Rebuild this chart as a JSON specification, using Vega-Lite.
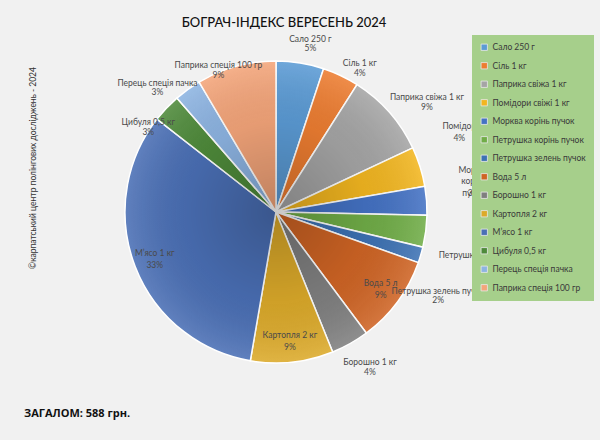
{
 "$schema": "https://vega.github.io/schema/vega-lite/v6.json",
 "background": "#f1f1f1",
 "padding": {"left": 24, "top": 0, "right": 12, "bottom": 16},
 "config": {"view": {"stroke": null}, "font": "Lato", "concat": {"spacing": 0}, "text": {"fontSize": 8.5, "fill": "#4a4a4a"}},
 "title": {"text": "ЗАГАЛОМ: 588 грн.", "orient": "bottom", "anchor": "start", "fontSize": 11, "fontWeight": "bold", "color": "#111111", "offset": -16, "dx": -2, "font": "Open Sans"},
 "vconcat": [{
  "title": {"text": "©карпатський центр полінгових досліджень - 2024", "orient": "left", "anchor": "middle", "fontSize": 8.5, "fontWeight": "normal", "color": "#333333", "offset": -11, "dx": 44},
  "hconcat": [{
   "title": {"text": "БОГРАЧ-ІНДЕКС ВЕРЕСЕНЬ 2024", "frame": "group", "fontSize": 13, "fontWeight": 500, "color": "#111111", "offset": -30, "dx": 8},
   "width": 500,
   "height": 424,
   "data": {"values": [
    {"idx": 1, "name": "Сало 250 г", "value": 30, "pct": "5%"},
    {"idx": 2, "name": "Сіль 1 кг", "value": 23, "pct": "4%"},
    {"idx": 3, "name": "Паприка свіжа 1 кг", "value": 53, "pct": "9%"},
    {"idx": 4, "name": "Помідори свіжі 1 кг", "value": 25, "pct": "4%"},
    {"idx": 5, "name": "Морква корінь пучок", "value": 18, "pct": "3%"},
    {"idx": 6, "name": "Петрушка корінь пучок", "value": 20, "pct": "3%"},
    {"idx": 7, "name": "Петрушка зелень пучок", "value": 10, "pct": "2%"},
    {"idx": 8, "name": "Вода 5 л", "value": 55, "pct": "9%"},
    {"idx": 9, "name": "Борошно 1 кг", "value": 24, "pct": "4%"},
    {"idx": 10, "name": "Картопля 2 кг", "value": 52, "pct": "9%"},
    {"idx": 11, "name": "М’ясо 1 кг", "value": 193, "pct": "33%"},
    {"idx": 12, "name": "Цибуля 0,5 кг", "value": 18, "pct": "3%"},
    {"idx": 13, "name": "Перець спеція пачка", "value": 17, "pct": "3%"},
    {"idx": 14, "name": "Паприка спеція 100 гр", "value": 50, "pct": "9%"}
   ]},
   "encoding": {
    "theta": {"field": "value", "type": "quantitative", "stack": true},
    "order": {"field": "idx", "type": "quantitative"}
   },
   "layer": [
    {
     "mark": {"type": "arc", "outerRadius": 151, "stroke": "#ffffff", "strokeWidth": 1.5},
     "encoding": {
      "color": {
       "field": "name", "type": "nominal",
       "scale": {
        "domain": ["Сало 250 г", "Сіль 1 кг", "Паприка свіжа 1 кг", "Помідори свіжі 1 кг", "Морква корінь пучок", "Петрушка корінь пучок", "Петрушка зелень пучок", "Вода 5 л", "Борошно 1 кг", "Картопля 2 кг", "М’ясо 1 кг", "Цибуля 0,5 кг", "Перець спеція пачка", "Паприка спеція 100 гр"],
        "range": ["#5b9bd5", "#ed7d31", "#a5a5a5", "#f2b620", "#4472c4", "#70ad47", "#3d72b4", "#cf6424", "#7f7f7f", "#dcaa2a", "#4a6fb5", "#4e8a3a", "#8db4e2", "#f4a57a"]
       },
       "legend": {
        "orient": "none", "legendX": 446, "legendY": 35, "title": null,
        "fillColor": "#a6cf8b", "padding": 8,
        "labelFontSize": 8.5, "labelColor": "#3a3a3a", "labelLimit": 120,
        "symbolType": "square", "symbolSize": 40, "symbolStrokeColor": "#e8e8e8", "symbolStrokeWidth": 0.8,
        "rowPadding": 7.5
       }
      }
     }
    },
    {
     "transform": [{"aggregate": [{"op": "sum", "field": "value", "as": "total"}]}],
     "mark": {"type": "arc", "outerRadius": 151, "fill": {"gradient": "radial", "x1": 0.5, "y1": 0.5, "r1": 0, "x2": 0.5, "y2": 0.5, "r2": 0.5, "stops": [{"offset": 0, "color": "rgba(0,0,0,0.22)"}, {"offset": 0.6, "color": "rgba(0,0,0,0.06)"}, {"offset": 1, "color": "rgba(255,255,255,0.12)"}]}},
     "encoding": {
      "theta": {"field": "total", "type": "quantitative", "stack": true},
      "order": {"field": "total", "type": "quantitative"}
     }
    },
    {"mark": {"type": "text", "radius": 130, "dy": -6}, "encoding": {"text": {"field": "name"}, "opacity": {"condition": {"test": "indexof(['М’ясо 1 кг','Картопля 2 кг','Вода 5 л'], datum.name) >= 0", "value": 1}, "value": 0}}},
    {"mark": {"type": "text", "radius": 130, "dy": 6}, "encoding": {"text": {"field": "pct"}, "opacity": {"condition": {"test": "indexof(['М’ясо 1 кг','Картопля 2 кг','Вода 5 л'], datum.name) >= 0", "value": 1}, "value": 0}}},

    {"mark": {"type": "text", "radius": 165, "dx": 8, "dy": -10}, "encoding": {"text": {"field": "name"}, "opacity": {"condition": {"test": "datum.name === 'Сало 250 г'", "value": 1}, "value": 0}}},
    {"mark": {"type": "text", "radius": 165, "dx": 8, "dy": -1}, "encoding": {"text": {"field": "pct"}, "opacity": {"condition": {"test": "datum.name === 'Сало 250 г'", "value": 1}, "value": 0}}},

    {"mark": {"type": "text", "radius": 165, "dx": 13, "dy": 0}, "encoding": {"text": {"field": "name"}, "opacity": {"condition": {"test": "datum.name === 'Сіль 1 кг'", "value": 1}, "value": 0}}},
    {"mark": {"type": "text", "radius": 165, "dx": 13, "dy": 10}, "encoding": {"text": {"field": "pct"}, "opacity": {"condition": {"test": "datum.name === 'Сіль 1 кг'", "value": 1}, "value": 0}}},

    {"mark": {"type": "text", "radius": 165, "dx": 27, "dy": -6}, "encoding": {"text": {"field": "name"}, "opacity": {"condition": {"test": "datum.name === 'Паприка свіжа 1 кг'", "value": 1}, "value": 0}}},
    {"mark": {"type": "text", "radius": 165, "dx": 27, "dy": 4}, "encoding": {"text": {"field": "pct"}, "opacity": {"condition": {"test": "datum.name === 'Паприка свіжа 1 кг'", "value": 1}, "value": 0}}},

    {"mark": {"type": "text", "radius": 165, "align": "left", "dx": 9, "dy": -37}, "encoding": {"text": {"field": "name"}, "opacity": {"condition": {"test": "datum.name === 'Помідори свіжі 1 кг'", "value": 1}, "value": 0}}},
    {"mark": {"type": "text", "radius": 165, "align": "left", "dx": 20, "dy": -25}, "encoding": {"text": {"field": "pct"}, "opacity": {"condition": {"test": "datum.name === 'Помідори свіжі 1 кг'", "value": 1}, "value": 0}}},

    {"mark": {"type": "text", "radius": 165, "dx": 33, "dy": -30, "lineBreak": " ", "lineHeight": 11.5}, "encoding": {"text": {"field": "name"}, "opacity": {"condition": {"test": "datum.name === 'Морква корінь пучок'", "value": 1}, "value": 0}}},
    {"mark": {"type": "text", "radius": 165, "dx": 33, "dy": -7}, "encoding": {"text": {"field": "pct"}, "opacity": {"condition": {"test": "datum.name === 'Морква корінь пучок'", "value": 1}, "value": 0}}},

    {"mark": {"type": "text", "radius": 165, "align": "left", "dx": -1, "dy": 22}, "encoding": {"text": {"field": "name"}, "opacity": {"condition": {"test": "datum.name === 'Петрушка корінь пучок'", "value": 1}, "value": 0}}},
    {"mark": {"type": "text", "radius": 165, "align": "left", "dx": 35, "dy": 33}, "encoding": {"text": {"field": "pct"}, "opacity": {"condition": {"test": "datum.name === 'Петрушка корінь пучок'", "value": 1}, "value": 0}}},

    {"mark": {"type": "text", "radius": 165, "dx": 4, "dy": 32}, "encoding": {"text": {"field": "name"}, "opacity": {"condition": {"test": "datum.name === 'Петрушка зелень пучок'", "value": 1}, "value": 0}}},
    {"mark": {"type": "text", "radius": 165, "dx": 4, "dy": 41}, "encoding": {"text": {"field": "pct"}, "opacity": {"condition": {"test": "datum.name === 'Петрушка зелень пучок'", "value": 1}, "value": 0}}},

    {"mark": {"type": "text", "radius": 165, "dx": 13, "dy": 6}, "encoding": {"text": {"field": "name"}, "opacity": {"condition": {"test": "datum.name === 'Борошно 1 кг'", "value": 1}, "value": 0}}},
    {"mark": {"type": "text", "radius": 165, "dx": 13, "dy": 16}, "encoding": {"text": {"field": "pct"}, "opacity": {"condition": {"test": "datum.name === 'Борошно 1 кг'", "value": 1}, "value": 0}}},

    {"mark": {"type": "text", "radius": 165, "dx": -8, "dy": 24}, "encoding": {"text": {"field": "name"}, "opacity": {"condition": {"test": "datum.name === 'Цибуля 0,5 кг'", "value": 1}, "value": 0}}},
    {"mark": {"type": "text", "radius": 165, "dx": -8, "dy": 34}, "encoding": {"text": {"field": "pct"}, "opacity": {"condition": {"test": "datum.name === 'Цибуля 0,5 кг'", "value": 1}, "value": 0}}},

    {"mark": {"type": "text", "radius": 165, "dx": -22, "dy": 5}, "encoding": {"text": {"field": "name"}, "opacity": {"condition": {"test": "datum.name === 'Перець спеція пачка'", "value": 1}, "value": 0}}},
    {"mark": {"type": "text", "radius": 165, "dx": -22, "dy": 14}, "encoding": {"text": {"field": "pct"}, "opacity": {"condition": {"test": "datum.name === 'Перець спеція пачка'", "value": 1}, "value": 0}}},

    {"mark": {"type": "text", "radius": 165, "dx": -14, "dy": 12}, "encoding": {"text": {"field": "name"}, "opacity": {"condition": {"test": "datum.name === 'Паприка спеція 100 гр'", "value": 1}, "value": 0}}},
    {"mark": {"type": "text", "radius": 165, "dx": -14, "dy": 22}, "encoding": {"text": {"field": "pct"}, "opacity": {"condition": {"test": "datum.name === 'Паприка спеція 100 гр'", "value": 1}, "value": 0}}}
   ]
  }]
 }]
}
